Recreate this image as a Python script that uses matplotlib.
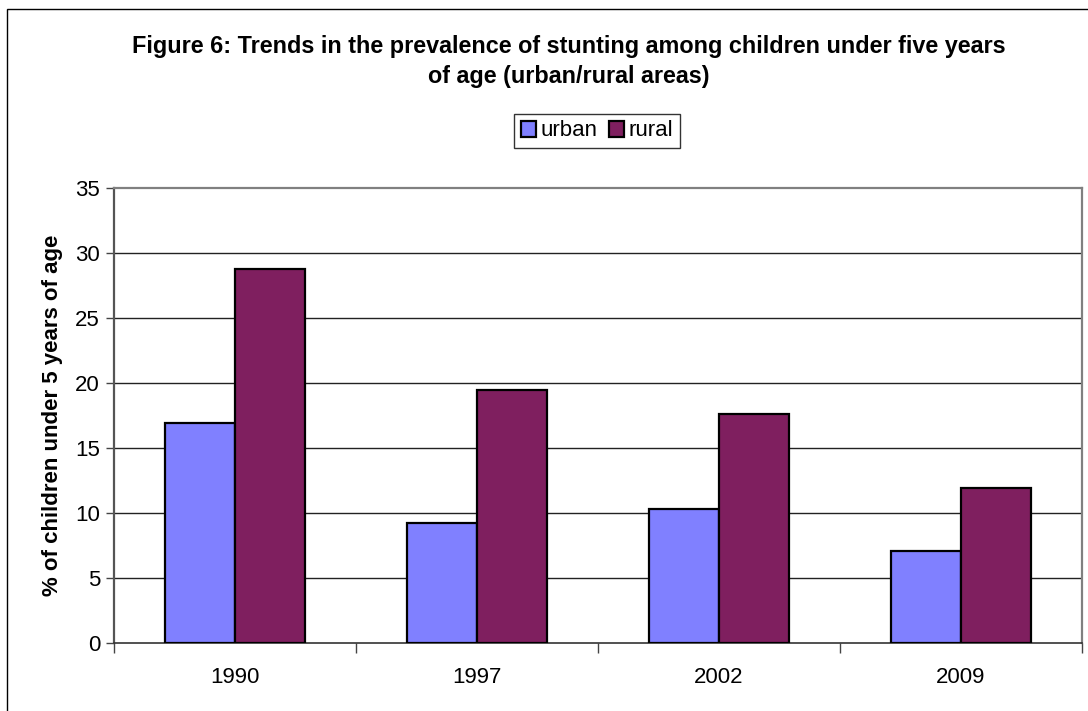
import matplotlib.pyplot as plt
import numpy as np
from matplotlib.patches import Rectangle

years = ['1990', '1997', '2002', '2009']
urban = [16.9, 9.2, 10.3, 7.1]
rural = [28.8, 19.5, 17.6, 11.9]

plt.rcParams['font.family'] = ['Liberation Sans', 'DejaVu Sans']

fig = plt.figure(figsize=(10.88, 7.11), dpi=100)
ax = fig.add_axes([114 / 1088, 68 / 711, 968 / 1088, 455 / 711])

# outer chart frame (runs off the right and bottom edges)
fig.patches.append(Rectangle((7 / 1088, -0.05), 1.2, (711 - 9) / 711 + 0.05,
                             transform=fig.transFigure, fill=False,
                             edgecolor='black', linewidth=1.0))

x = np.arange(len(years))
w = 0.289
ax.bar(x - w / 2, urban, w, color='#8080FF', edgecolor='black', linewidth=1.6,
       label='urban', zorder=3)
ax.bar(x + w / 2, rural, w, color='#7F1F5F', edgecolor='black', linewidth=1.6,
       label='rural', zorder=3)

ax.set_xlim(-0.5, len(years) - 0.5)
ax.set_ylim(0, 35)
ax.set_yticks(range(0, 36, 5))
ax.tick_params(axis='y', labelsize=16, length=6, width=1.0, direction='out',
               color='#444444', pad=4)

# category labels centred, tick marks between categories
ax.set_xticks(x)
ax.set_xticklabels(years, fontsize=16)
ax.tick_params(axis='x', length=0, pad=17)
ax.set_xticks(np.arange(-0.5, len(years)), minor=True)
ax.tick_params(axis='x', which='minor', length=7, width=1.0, color='#444444')

for y in range(5, 35, 5):
    ax.axhline(y, color='#222222', linewidth=1.0, zorder=1)

ax.spines['left'].set_color('#555555')
ax.spines['left'].set_linewidth(1.6)
ax.spines['bottom'].set_color('#333333')
ax.spines['bottom'].set_linewidth(1.2)
for side in ['top', 'right']:
    ax.spines[side].set_color('#808080')
    ax.spines[side].set_linewidth(1.6)

ax.set_ylabel('% of children under 5 years of age', fontsize=16,
              fontweight='bold', labelpad=9)

fig.text(569 / 1088, 1 - 47 / 711,
         'Figure 6: Trends in the prevalence of stunting among children under five years',
         ha='center', va='center', fontsize=16.8, fontweight='bold')
fig.text(569 / 1088, 1 - 76 / 711, 'of age (urban/rural areas)',
         ha='center', va='center', fontsize=16.8, fontweight='bold')

leg = fig.legend(loc='center', bbox_to_anchor=(597 / 1088, 1 - 131 / 711),
                 ncol=2, fontsize=16, frameon=True, fancybox=False,
                 handlelength=0.7, handleheight=0.7, handletextpad=0.2,
                 columnspacing=0.5, borderpad=0.3)
leg.get_frame().set_edgecolor('black')
leg.get_frame().set_linewidth(1.0)

fig.savefig('out.png', dpi=100)
